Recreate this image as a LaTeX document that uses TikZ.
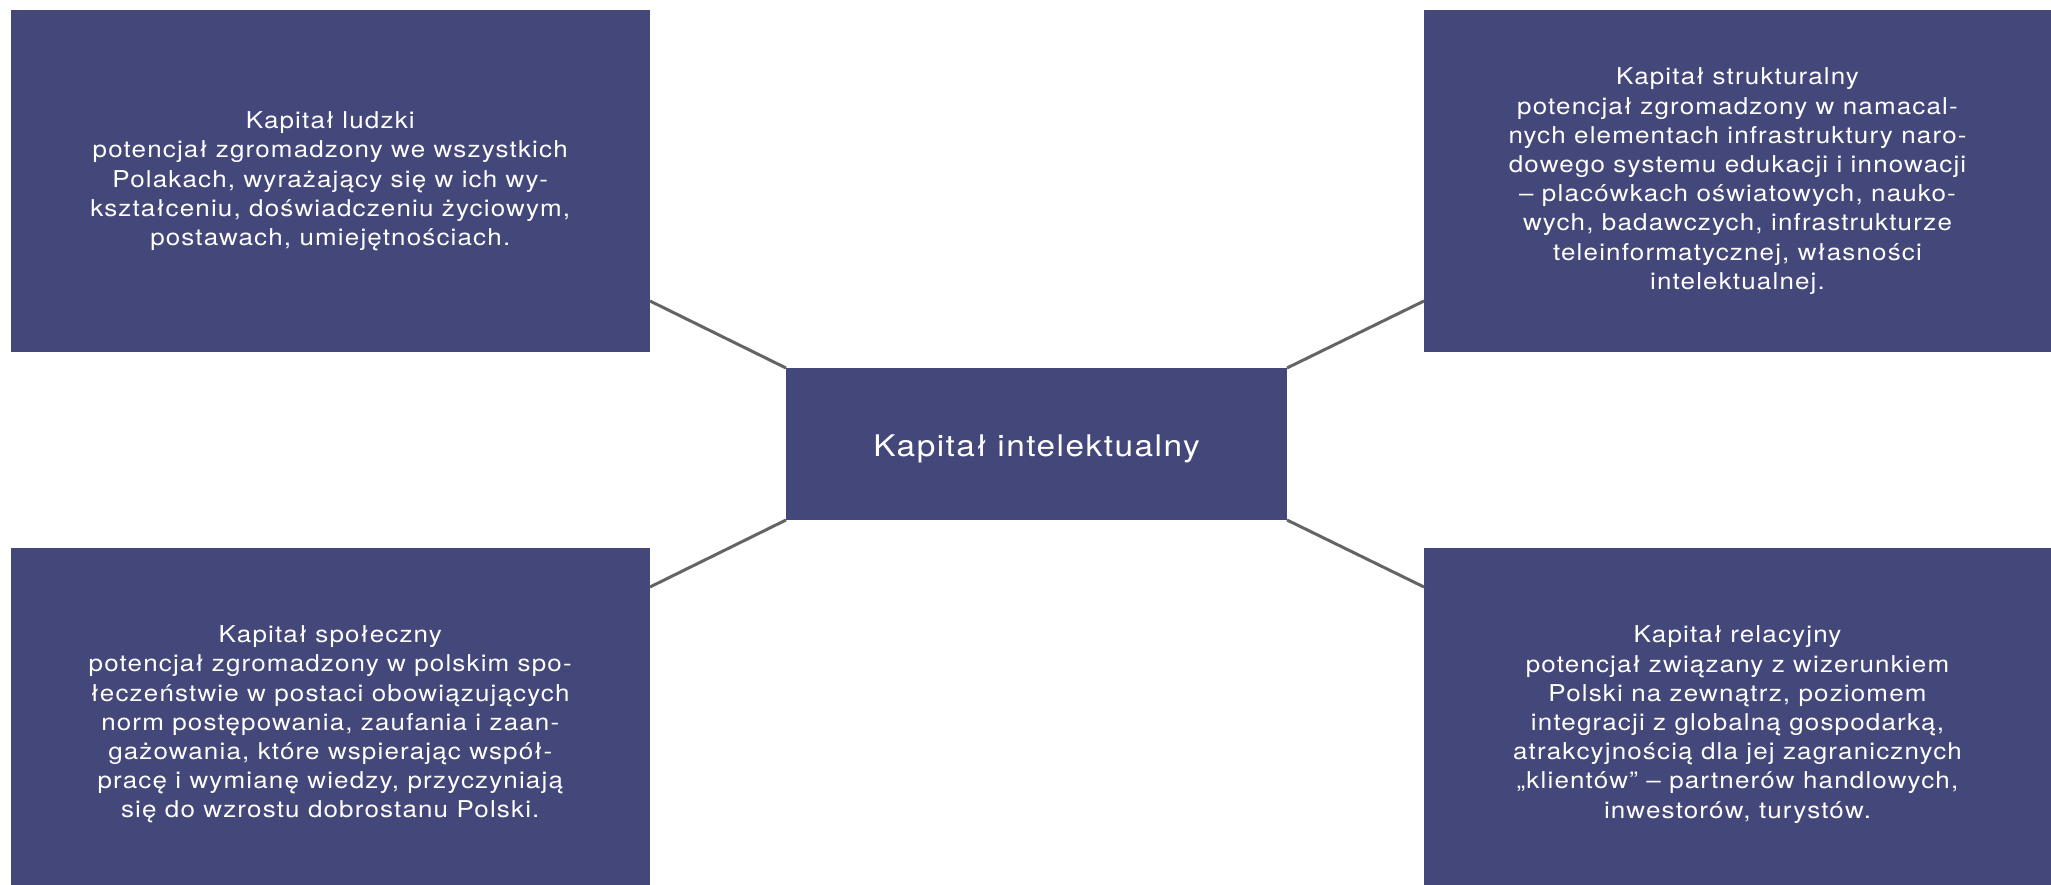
\documentclass[tikz,border=0pt]{standalone}
\usepackage{fontspec}
\setmainfont{TeX Gyre Heros}[FakeStretch=1.12, LetterSpace=5]
\usetikzlibrary{calc}
\definecolor{boxblue}{RGB}{67,71,122}
\definecolor{linegray}{RGB}{100,100,100}
\tikzset{
  box/.style={rectangle, fill=boxblue, text=white, align=center, inner sep=0pt, outer sep=0pt,
    font=\fontsize{23.2}{29.2}\selectfont},
  conn/.style={draw=linegray, line width=3pt}
}
\begin{document}
\begin{tikzpicture}[x=1pt, y=-1pt]
\useasboundingbox (0,0) rectangle (2051,885);
\node[box, minimum width=639.5pt, minimum height=341.5pt] (tl) at (330.25,181.25)
  {Kapitał ludzki\\potencjał zgromadzony we wszystkich\\Polakach, wyrażający się w ich wy-\\kształceniu, doświadczeniu życiowym,\\postawach, umiejętnościach.};
\node[box, minimum width=627pt, minimum height=341.5pt] (tr) at (1737.5,181.25)
  {Kapitał strukturalny\\potencjał zgromadzony w namacal-\\nych elementach infrastruktury naro-\\dowego systemu edukacji i innowacji\\– placówkach oświatowych, nauko-\\wych, badawczych, infrastrukturze\\teleinformatycznej, własności\\intelektualnej.};
\node[box, minimum width=639.5pt, minimum height=353pt] (bl) at (330.25,724.5)
  {Kapitał społeczny\\potencjał zgromadzony w polskim spo-\\łeczeństwie w postaci obowiązujących\\norm postępowania, zaufania i zaan-\\gażowania, które wspierając współ-\\pracę i wymianę wiedzy, przyczyniają\\się do wzrostu dobrostanu Polski.};
\node[box, minimum width=627pt, minimum height=353pt] (br) at (1737.5,724.5)
  {Kapitał relacyjny\\potencjał związany z wizerunkiem\\Polski na zewnątrz, poziomem\\integracji z globalną gospodarką,\\atrakcyjnością dla jej zagranicznych\\„klientów” – partnerów handlowych,\\inwestorów, turystów.};
\node[box, minimum width=501pt, minimum height=152pt, font=\fontsize{29.8}{34}\selectfont] (c) at (1036.5,444)
  {\raisebox{-5pt}[\height][\depth]{Kapitał intelektualny}};
\draw[conn] ($(tl.south east)+(0,-51)$) -- (c.north west);
\draw[conn] ($(tr.south west)+(0,-51)$) -- (c.north east);
\draw[conn] ($(bl.north east)+(0,39)$) -- (c.south west);
\draw[conn] ($(br.north west)+(0,39)$) -- (c.south east);
\end{tikzpicture}
\end{document}
